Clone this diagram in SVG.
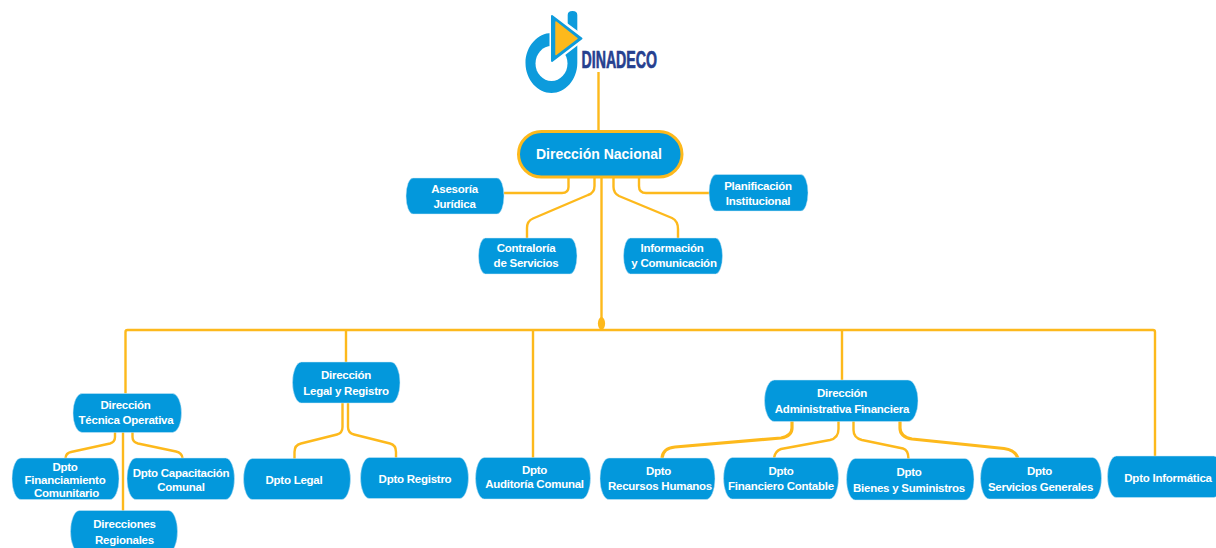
<svg xmlns="http://www.w3.org/2000/svg" width="1216" height="548" viewBox="0 0 1216 548">
<style>
.n{fill:#0398dc;stroke:#cfe9f7;stroke-width:.5}
.t{font-family:"Liberation Sans",Arial,sans-serif;font-weight:700;font-size:11.5px;letter-spacing:-.25px;fill:#fff;text-anchor:middle}
.c{fill:none;stroke:#fdb91c;stroke-width:2.4;stroke-linejoin:round}
.k{stroke-width:3.2}
</style>
<rect width="1216" height="548" fill="#fff"/>
<g id="connectors">
<path class="c" d="M598.5 72V132"/>
<path class="c" d="M601.5 177V330"/>
<ellipse cx="601.5" cy="323.5" rx="3.6" ry="6.5" fill="#fdb91c"/>
<path class="c" d="M125.5 393.5V332Q125.5 330 127.5 330H1153Q1155 330 1155 332V456"/>
<path class="c" d="M346 330V362M533 330V458M842 330V380"/>
<path class="c" d="M568.5 177V187Q568.5 193 562 193H504"/>
<path class="c" d="M639 177V186Q639 193 646 193H709"/>
<path class="c" d="M594.5 177V186Q594.5 193 588 195L533 218.5Q527 221 527 228V238"/>
<path class="c" d="M613.5 177V187Q613.5 193 619 196L672 218Q678 221 678 229V238"/>
<path class="c" d="M123 432V511"/>
<path class="c" d="M115 432V437Q115 442 110 443.5L71 452Q66 453 65.5 458"/>
<path class="c" d="M132.5 432V437Q132.5 442 138 443.5L176 451.5Q182 453 182.5 458"/>
<path class="c" d="M342.5 403V427Q342.5 433 337 434.5L301 443.5Q294.5 445 294.5 452V459"/>
<path class="c" d="M348 403V427Q348 433 354 434.5L390 443.5Q396 445 396 452V458"/>
<path class="c k" d="M792 421V428Q792 436 781 438L675 447Q663 448 662 458"/>
<path class="c" d="M838.5 421V429Q838.5 438 830 440L781 449Q775 451 774 458"/>
<path class="c" d="M853.5 421V430Q853.5 438 862 440L903 448.5Q908.5 450 908.5 459"/>
<path class="c k" d="M900 421V428Q900 437 912 439L1004 448.5Q1015 450 1018 458"/>
</g>
<g id="logo">
<path d="M567.7 15Q567.7 11 572.5 11T577.3 15V63C577.3 80 565 93 551.5 93S525.5 80 525.5 63S538 33 551.5 33Q560 33 567.700 38Z" fill="#0d9bdc"/>
<ellipse cx="551.5" cy="63.5" rx="16" ry="17.5" fill="#fff"/>
<path d="M552 15L583 38L552 62Z" fill="#0d9bdc" stroke="#fff" stroke-width="5" stroke-linejoin="round"/>
<path d="M552 16L581.5 38.5L552 61Z" fill="#0d9bdc" stroke="#0d9bdc" stroke-width="2" stroke-linejoin="round"/>
<path d="M556 22L577 38.5L556 54.5Z" fill="#fdb91c" stroke="#fdb91c" stroke-width="1.5" stroke-linejoin="round"/>
<text x="581.500" y="67.5" textLength="75.5" lengthAdjust="spacingAndGlyphs" font-family="'Liberation Sans',Arial,sans-serif" font-weight="700" font-size="24.5" fill="#26408f" stroke="#26408f" stroke-width=".7">DINADECO</text>
</g>
<g id="n-nacional"><rect x="518.5" y="131.5" width="163.5" height="45.5" rx="23" fill="#0398dc" stroke="#fdb91c" stroke-width="3"/><text class="t" x="599" y="159" style="font-size:14px;letter-spacing:0">Dirección Nacional</text></g>
<g id="n-asesoria"><rect class="n" x="406" y="178" width="98" height="36" rx="7" ry="18"/><text class="t" x="454.5" y="193">Asesoría</text><text class="t" x="454.5" y="208">Jurídica</text></g>
<g id="n-planificacion"><rect class="n" x="709" y="174.5" width="99" height="36.5" rx="7" ry="18"/><text class="t" x="758" y="190">Planificación</text><text class="t" x="758" y="205">Institucional</text></g>
<g id="n-contraloria"><rect class="n" x="478.5" y="238" width="98.5" height="36" rx="7" ry="18"/><text class="t" x="526" y="252">Contraloría</text><text class="t" x="526" y="267">de Servicios</text></g>
<g id="n-informacion"><rect class="n" x="623.5" y="238" width="99" height="36" rx="7" ry="18"/><text class="t" x="672" y="252">Información</text><text class="t" x="674" y="267">y Comunicación</text></g>
<g id="n-tecnica"><rect class="n" x="73" y="393.5" width="108.500" height="39" rx="9" ry="19.5"/><text class="t" x="125.5" y="409">Dirección</text><text class="t" x="126" y="424">Técnica Operativa</text></g>
<g id="n-financiamiento"><rect class="n" x="12" y="458" width="107" height="41.5" rx="9" ry="20.7"/><text class="t" x="65" y="471">Dpto</text><text class="t" x="65" y="484">Financiamiento</text><text class="t" x="66.5" y="497">Comunitario</text></g>
<g id="n-capacitacion"><rect class="n" x="127" y="458" width="107.5" height="41.5" rx="9" ry="20.7"/><text class="t" x="181" y="477">Dpto Capacitación</text><text class="t" x="181" y="491">Comunal</text></g>
<g id="n-regionales"><rect class="n" x="70.5" y="510.5" width="107" height="42" rx="9" ry="21"/><text class="t" x="124.5" y="528">Direcciones</text><text class="t" x="124.5" y="544">Regionales</text></g>
<g id="n-legal-registro"><rect class="n" x="292.5" y="362" width="107.5" height="41" rx="9" ry="20.5"/><text class="t" x="346" y="379">Dirección</text><text class="t" x="346" y="395">Legal y Registro</text></g>
<g id="n-legal"><rect class="n" x="243.5" y="458.5" width="107" height="41" rx="9" ry="20.5"/><text class="t" x="294" y="484">Dpto Legal</text></g>
<g id="n-registro"><rect class="n" x="360.5" y="457.5" width="108" height="41" rx="9" ry="20.5"/><text class="t" x="415" y="483">Dpto Registro</text></g>
<g id="n-auditoria"><rect class="n" x="475.5" y="457.5" width="115" height="41.5" rx="9" ry="20.7"/><text class="t" x="534.500" y="474">Dpto</text><text class="t" x="534.5" y="488">Auditoría Comunal</text></g>
<g id="n-administrativa"><rect class="n" x="764.500" y="380" width="153.5" height="41.5" rx="10" ry="20.7"/><text class="t" x="842" y="397">Dirección</text><text class="t" x="842" y="413">Administrativa Financiera</text></g>
<g id="n-rrhh"><rect class="n" x="600" y="458" width="115" height="41.500" rx="9" ry="20.7"/><text class="t" x="658.5" y="475">Dpto</text><text class="t" x="660" y="490">Recursos Humanos</text></g>
<g id="n-contable"><rect class="n" x="723.5" y="457.5" width="115" height="41.5" rx="9" ry="20.7"/><text class="t" x="781" y="475">Dpto</text><text class="t" x="781" y="490">Financiero Contable</text></g>
<g id="n-bienes"><rect class="n" x="846.5" y="458.5" width="127.5" height="41.5" rx="9" ry="20.7"/><text class="t" x="909" y="476">Dpto</text><text class="t" x="909" y="492">Bienes y Suministros</text></g>
<g id="n-servicios"><rect class="n" x="980.5" y="457.5" width="121" height="41.5" rx="9" ry="20.7"/><text class="t" x="1039.5" y="475">Dpto</text><text class="t" x="1040.5" y="491">Servicios Generales</text></g>
<g id="n-informatica"><rect class="n" x="1107.5" y="456" width="115" height="41.5" rx="9" ry="20.7"/><text class="t" x="1168" y="482">Dpto Informática</text></g>
</svg>
